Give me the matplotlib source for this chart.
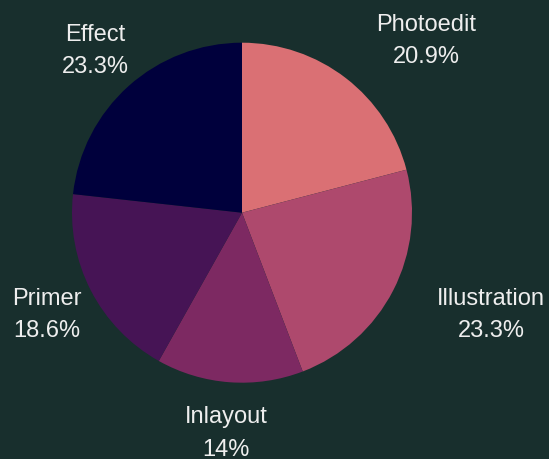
import numpy as np
import matplotlib.pyplot as plt

labels = ['Photoedit', 'Illustration', 'Inlayout', 'Primer', 'Effect']
values = [9, 10, 6, 8, 10]
colors = ['#da7074', '#ae496d', '#7d2962', '#461455', '#00003c']

bg = '#182f2d'
fig = plt.figure(figsize=(5.49, 4.59), dpi=100, facecolor=bg)
ax = fig.add_axes([0, 0, 1, 1])
ax.set_facecolor(bg)

cx, cy, r = 242, 246.3, 170
wedges, _ = ax.pie(values, colors=colors, startangle=90, counterclock=False,
                   center=(cx, cy), radius=r, frame=True)
ax.set_xlim(0, 549)
ax.set_ylim(0, 459)
ax.set_aspect('equal')
ax.axis('off')

total = sum(values)
for w, lab, v in zip(wedges, labels, values):
    ang = np.deg2rad((w.theta1 + w.theta2) / 2)
    x = cx + 1.29 * r * np.cos(ang)
    y = cy + 1.29 * r * np.sin(ang) - 2
    pct = round(v / total * 100, 1)
    pct_txt = f'{pct:g}%'
    ha = 'left' if np.cos(ang) > 0.3 else 'center'
    ax.text(x, y, f'{lab}\n{pct_txt}', ha=ha, va='center', color='#eeeeee',
            fontsize=17, family='Liberation Sans', linespacing=1.6,
            multialignment='center')

fig.savefig('out.png', dpi=100, facecolor=bg)
